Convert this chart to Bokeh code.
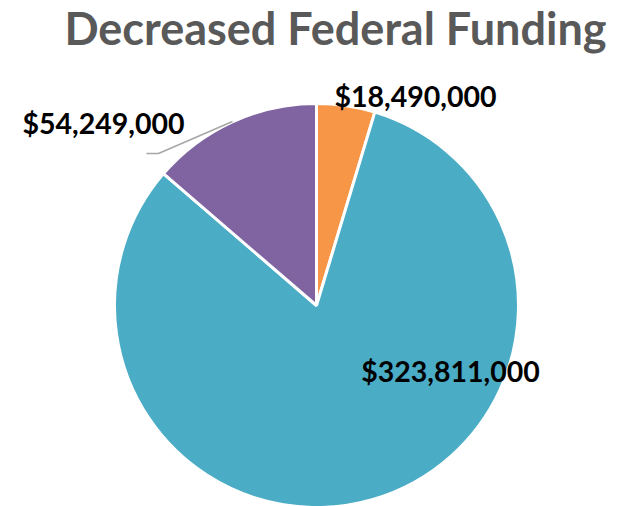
import numpy as np
from bokeh.plotting import figure
from bokeh.models import ColumnDataSource
from bokeh.core.properties import value
from bokeh.embed import file_html
from bokeh.resources import INLINE

# data
categories = ["Slice A", "Slice B", "Slice C"]
amounts = [18490000, 323811000, 54249000]
labels = ["$18,490,000", "$323,811,000", "$54,249,000"]
colors = ["#F79646", "#4BACC6", "#8064A2"]
title_text = "Decreased Federal Funding"

W, H = 630, 506
def py(img_y):
    return H - img_y
def px(img_x):
    return img_x

p = figure(width=W, height=H, x_range=(0, W), y_range=(0, H),
           output_backend="svg", toolbar_location=None, min_border=0)
p.axis.visible = False
p.grid.visible = False
p.outline_line_color = None

vals = np.array(amounts, dtype=float)
frac = vals / vals.sum()
cum = np.concatenate([[0], np.cumsum(frac)])
# clockwise from 12 o'clock
ends = np.pi / 2 - 2 * np.pi * cum[:-1]
starts = np.pi / 2 - 2 * np.pi * cum[1:]

cx, cy, r = px(316), py(305), 202
src = ColumnDataSource(dict(start=starts, end=ends, color=colors, cat=categories))
p.wedge(x=cx, y=cy, radius=r, start_angle="start", end_angle="end",
        fill_color="color", line_color="white", line_width=3, source=src)

# leader line for the purple slice
p.line(x=[px(232), px(158), px(146)], y=[py(121), py(153), py(153)],
       line_color="#A6A6A6", line_width=1.5)

lab_x = [px(415), px(450), px(103)]
lab_y = [py(95), py(370), py(122)]
p.text(x=lab_x, y=lab_y, text=labels, text_font=value("Lato"),
       text_font_style="bold", text_font_size="28.5px", text_color="#000000",
       text_align="center", text_baseline="alphabetic")

p.text(x=[px(335)], y=[py(27)], text=[title_text], text_font=value("Lato"),
       text_font_style="bold", text_font_size="45px", text_color="#595959",
       text_align="center", text_baseline="alphabetic")

open("out.html", "w").write(file_html(p, INLINE))
